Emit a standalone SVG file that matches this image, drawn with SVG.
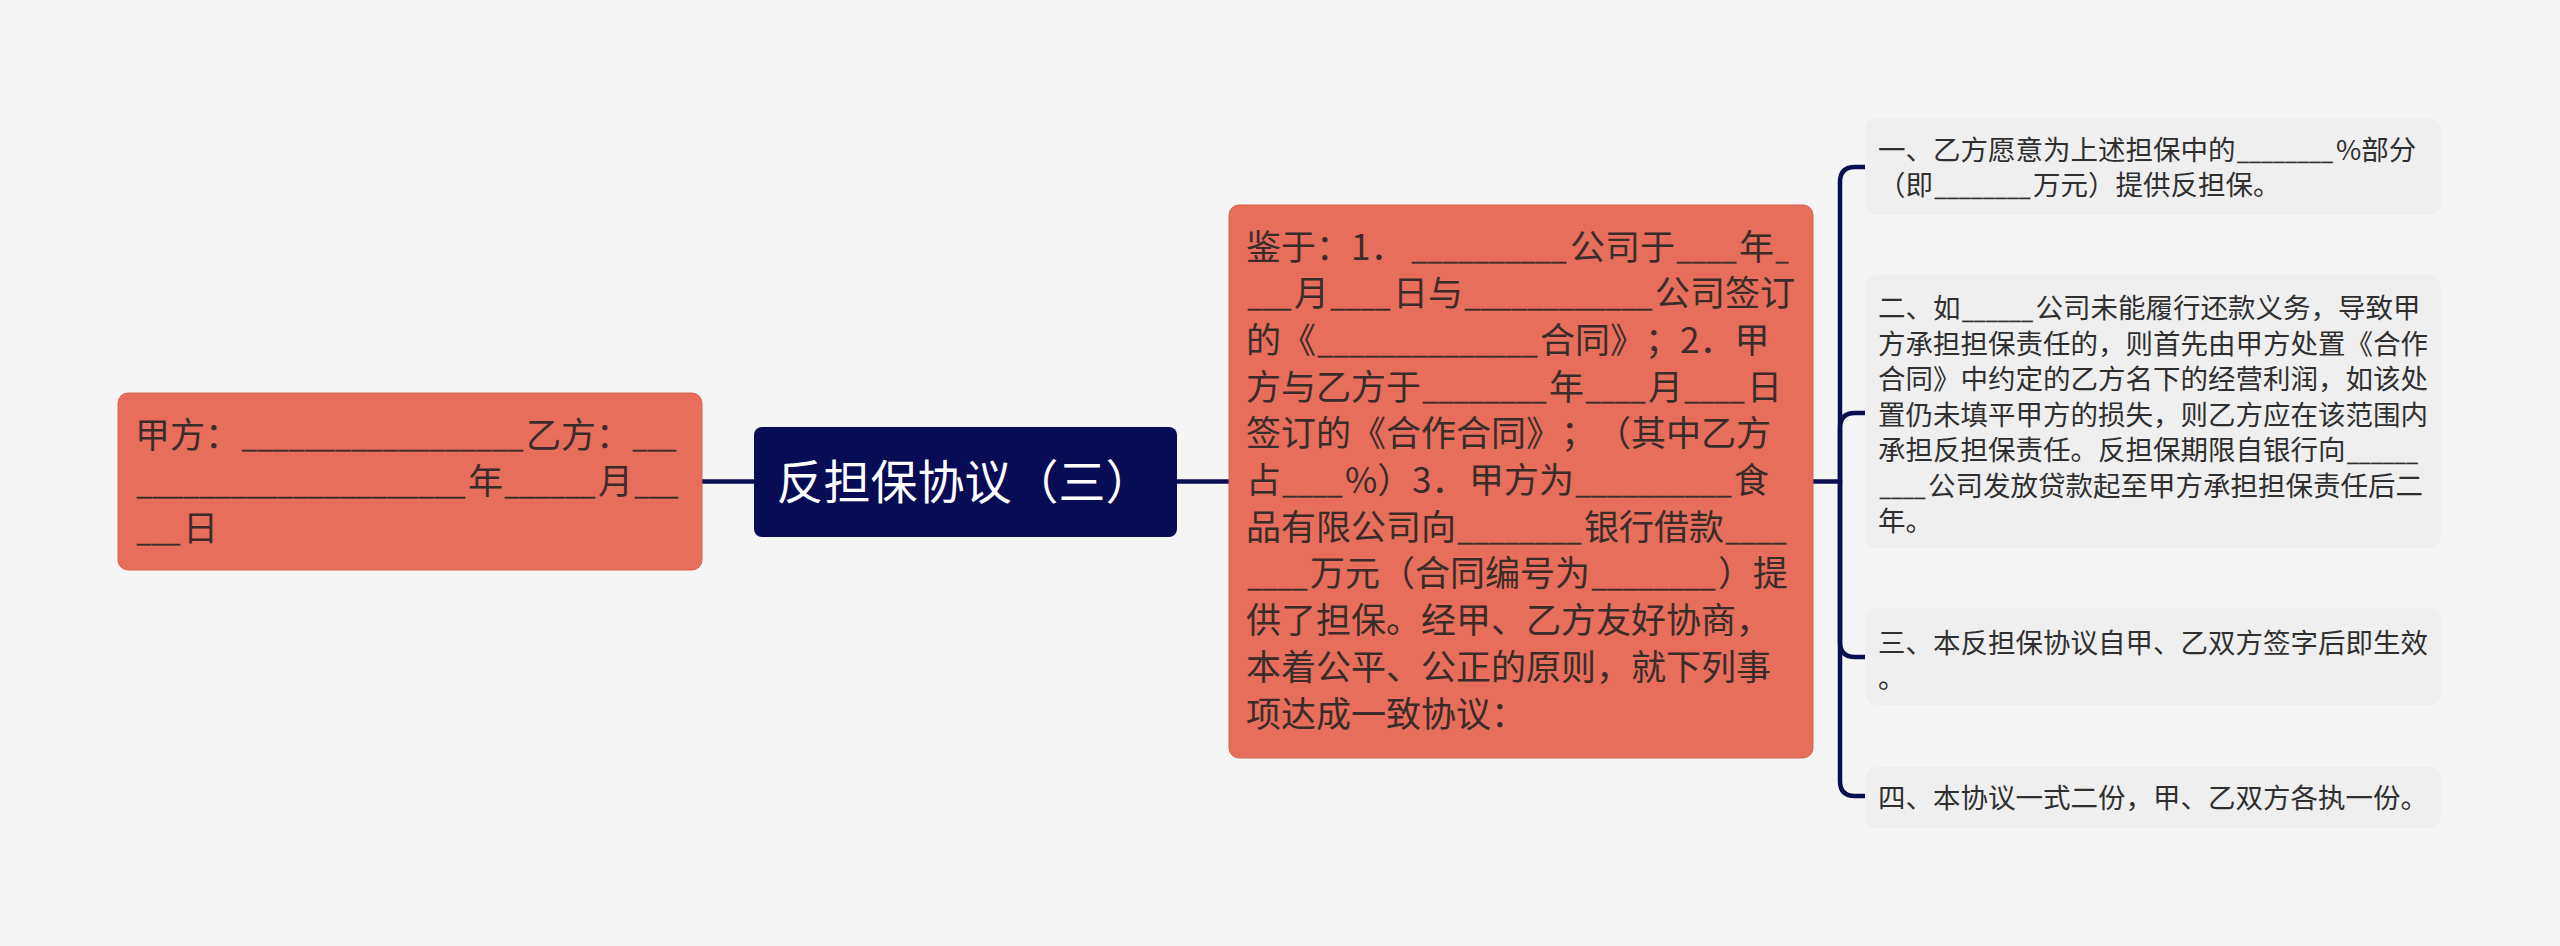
<svg xmlns="http://www.w3.org/2000/svg" width="2560" height="946" viewBox="0 0 2560 946">
<style>
text{font-family:"Noto Sans CJK SC","Noto Sans",sans-serif;text-spacing-trim:space-all;font-kerning:none}
.m{font-size:35px;fill:#3a2c29}
.r{font-size:27.5px;fill:#2f2f2f}
.mu{font-size:26px;fill:#3a2c29;stroke:#3a2c29;stroke-width:0.35}
.ru{font-size:20.5px;fill:#2f2f2f;stroke:#2f2f2f;stroke-width:0.3}
.t{font-size:47px;fill:#ffffff}
.coral{fill:#e66e5a;stroke:#d9634f;stroke-width:1}
.navy{fill:#070c55}
.leaf{fill:#efefef}
.link{fill:none;stroke:#0a0f52;stroke-width:4.5;stroke-linecap:round}
</style>
<rect x="0" y="0" width="2560" height="946" fill="#f5f5f5"/>
<g id="connectors">
<path class="link" d="M702,481.5 H754"/>
<path class="link" d="M1177,481.5 H1229"/>
<path class="link" d="M1813,481.5 H1840"/>
<path class="link" d="M1840,481.5 V182 Q1840,167 1855,167 H1865"/>
<path class="link" d="M1840,481.5 V428 Q1840,413 1855,413 H1865"/>
<path class="link" d="M1840,481.5 V642 Q1840,657 1855,657 H1865"/>
<path class="link" d="M1840,481.5 V781 Q1840,796 1855,796 H1865"/>
</g>
<g id="node-left">
<rect class="coral" x="118" y="393" width="584" height="177" rx="10"/>
<text class="m" x="135" y="447.5">甲方：</text>
<text class="mu" x="241.5" y="448.3" textLength="282" lengthAdjust="spacingAndGlyphs">__________________</text>
<text class="m" x="526" y="447.5">乙方：</text>
<text class="mu" x="632.5" y="448.3" textLength="44" lengthAdjust="spacingAndGlyphs">___</text>
<text class="mu" x="136.5" y="495" textLength="329" lengthAdjust="spacingAndGlyphs">_____________________</text>
<text class="m" x="468" y="494.2">年</text>
<text class="mu" x="504.5" y="495" textLength="91" lengthAdjust="spacingAndGlyphs">______</text>
<text class="m" x="598" y="494.2">月</text>
<text class="mu" x="634.5" y="495" textLength="44" lengthAdjust="spacingAndGlyphs">___</text>
<text class="mu" x="136.5" y="541.7" textLength="44" lengthAdjust="spacingAndGlyphs">___</text>
<text class="m" x="183" y="540.9">日</text>
</g>
<g id="node-root">
<rect class="navy" x="754" y="427" width="423" height="110" rx="8"/>
<text class="t" x="776.5" y="499">反担保协议（三）</text>
</g>
<g id="node-middle">
<rect class="coral" x="1229" y="205" width="584" height="553" rx="10"/>
<text class="m" x="1246" y="259.5">鉴于：1．</text>
<text class="mu" x="1411.5" y="260.3" textLength="155" lengthAdjust="spacingAndGlyphs">__________</text>
<text class="m" x="1570" y="259.5">公司于</text>
<text class="mu" x="1676.5" y="260.3" textLength="60" lengthAdjust="spacingAndGlyphs">____</text>
<text class="m" x="1739" y="259.5">年</text>
<text class="mu" x="1775.5" y="260.3" textLength="13" lengthAdjust="spacingAndGlyphs">_</text>
<text class="mu" x="1247.5" y="307" textLength="44" lengthAdjust="spacingAndGlyphs">___</text>
<text class="m" x="1294" y="306.2">月</text>
<text class="mu" x="1330.5" y="307" textLength="60" lengthAdjust="spacingAndGlyphs">____</text>
<text class="m" x="1393" y="306.2">日与</text>
<text class="mu" x="1464.5" y="307" textLength="188" lengthAdjust="spacingAndGlyphs">____________</text>
<text class="m" x="1655" y="306.2">公司签订</text>
<text class="m" x="1246" y="352.9">的《</text>
<text class="mu" x="1317.5" y="353.7" textLength="220" lengthAdjust="spacingAndGlyphs">______________</text>
<text class="m" x="1540" y="352.9">合同》；2．甲</text>
<text class="m" x="1246" y="399.6">方与乙方于</text>
<text class="mu" x="1422.5" y="400.4" textLength="124" lengthAdjust="spacingAndGlyphs">________</text>
<text class="m" x="1549" y="399.6">年</text>
<text class="mu" x="1585.5" y="400.4" textLength="60" lengthAdjust="spacingAndGlyphs">____</text>
<text class="m" x="1648" y="399.6">月</text>
<text class="mu" x="1684.5" y="400.4" textLength="60" lengthAdjust="spacingAndGlyphs">____</text>
<text class="m" x="1747" y="399.6">日</text>
<text class="m" x="1246" y="446.3">签订的《合作合同》；（其中乙方</text>
<text class="m" x="1246" y="493">占</text>
<text class="mu" x="1282.5" y="493.8" textLength="60" lengthAdjust="spacingAndGlyphs">____</text>
<text class="m" x="1345" y="493">%）</text>
<text class="m" x="1412" y="493">3．</text>
<text class="m" x="1469" y="493">甲方为</text>
<text class="mu" x="1575.5" y="493.8" textLength="156" lengthAdjust="spacingAndGlyphs">__________</text>
<text class="m" x="1734" y="493">食</text>
<text class="m" x="1246" y="539.7">品有限公司向</text>
<text class="mu" x="1457.5" y="540.5" textLength="124" lengthAdjust="spacingAndGlyphs">________</text>
<text class="m" x="1584" y="539.7">银行借款</text>
<text class="mu" x="1725.5" y="540.5" textLength="61" lengthAdjust="spacingAndGlyphs">____</text>
<text class="mu" x="1247.5" y="587.2" textLength="60" lengthAdjust="spacingAndGlyphs">____</text>
<text class="m" x="1310" y="586.4">万元（合同编号为</text>
<text class="mu" x="1591.5" y="587.2" textLength="124" lengthAdjust="spacingAndGlyphs">________</text>
<text class="m" x="1718" y="586.4">）提</text>
<text class="m" x="1246" y="633.1">供了担保。经甲、乙方友好协商，</text>
<text class="m" x="1246" y="679.8">本着公平、公正的原则，就下列事</text>
<text class="m" x="1246" y="726.5">项达成一致协议：</text>
</g>
<g id="node-item1">
<rect class="leaf" x="1865" y="118" width="576" height="97" rx="12"/>
<text class="r" x="1878" y="159.5">一、乙方愿意为上述担保中的</text>
<text class="ru" x="2237" y="160.2" textLength="96" lengthAdjust="spacingAndGlyphs">________</text>
<text class="r" x="2336" y="159.5">%部分</text>
<text class="r" x="1878" y="195">（即</text>
<text class="ru" x="1934.5" y="195.7" textLength="96" lengthAdjust="spacingAndGlyphs">________</text>
<text class="r" x="2033" y="195">万元）提供反担保。</text>
</g>
<g id="node-item2">
<rect class="leaf" x="1865" y="275" width="576" height="273" rx="12"/>
<text class="r" x="1878" y="318">二、如</text>
<text class="ru" x="1962" y="318.7" textLength="71" lengthAdjust="spacingAndGlyphs">______</text>
<text class="r" x="2035.5" y="318">公司未能履行还款义务，导致甲</text>
<text class="r" x="1878" y="353.5">方承担担保责任的，则首先由甲方处置《合作</text>
<text class="r" x="1878" y="389">合同》中约定的乙方名下的经营利润，如该处</text>
<text class="r" x="1878" y="424.5">置仍未填平甲方的损失，则乙方应在该范围内</text>
<text class="r" x="1878" y="460">承担反担保责任。反担保期限自银行向</text>
<text class="ru" x="2347" y="460.7" textLength="71" lengthAdjust="spacingAndGlyphs">______</text>
<text class="ru" x="1879.5" y="496.2" textLength="46" lengthAdjust="spacingAndGlyphs">____</text>
<text class="r" x="1928" y="495.5">公司发放贷款起至甲方承担担保责任后二</text>
<text class="r" x="1878" y="531">年。</text>
</g>
<g id="node-item3">
<rect class="leaf" x="1865" y="608" width="576" height="97" rx="12"/>
<text class="r" x="1878" y="652.5">三、本反担保协议自甲、乙双方签字后即生效</text>
<text class="r" x="1878" y="688">。</text>
</g>
<g id="node-item4">
<rect class="leaf" x="1865" y="767" width="576" height="61" rx="12"/>
<text class="r" x="1878" y="808">四、本协议一式二份，甲、乙双方各执一份。</text>
</g>
</svg>
